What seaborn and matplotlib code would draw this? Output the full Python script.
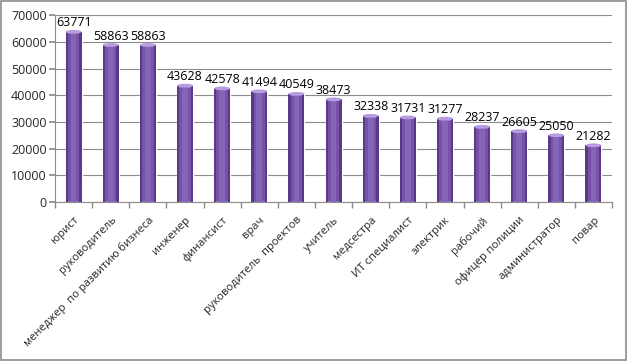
import matplotlib
matplotlib.use("Agg")
import matplotlib.pyplot as plt
import seaborn as sns
import pandas as pd
import numpy as np
from matplotlib.patches import Rectangle, Ellipse

categories = ["юрист", "руководитель", "менеджер  по развитию бизнеса", "инженер",
              "финансист", "врач", "руководитель  проектов", "учитель", "медсестра",
              "ИТ специалист", "электрик", "рабочий", "офицер полиции",
              "администратор", "повар"]
values = [63771, 58863, 58863, 43628, 42578, 41494, 40549, 38473, 32338,
          31731, 31277, 28237, 26605, 25050, 21282]
yticks = [0, 10000, 20000, 30000, 40000, 50000, 60000, 70000]

sns.set_theme(style="white")
plt.rcParams['font.family'] = ['Open Sans', 'DejaVu Sans']

df = pd.DataFrame({"cat": categories, "val": values})

fig = plt.figure(figsize=(6.28, 3.61), dpi=100)
ax = fig.add_axes([0.0876, 0.44, 0.887, 0.518])
sns.barplot(data=df, x="cat", y="val", color="#7753a6", width=0.43,
            saturation=1, ax=ax, zorder=3)

# cylinder-like shading
for p in list(ax.patches):
    x, w, h = p.get_x(), p.get_width(), p.get_height()
    ax.add_patch(Rectangle((x, 0), w * 0.14, h, color="#58398a", zorder=4, lw=0))
    ax.add_patch(Rectangle((x + w * 0.86, 0), w * 0.14, h, color="#58398a", zorder=4, lw=0))
    ax.add_patch(Rectangle((x + w * 0.32, 0), w * 0.36, h, color="#8565b8", zorder=4, lw=0))
    ax.add_patch(Ellipse((x + w / 2, h), w, 1400, color="#b79de0", zorder=5, lw=0))

for i, v in enumerate(values):
    ax.text(i, v + 900, str(v), ha="center", va="bottom", fontsize=9, color="black")

ax.set_ylim(0, 70000)
ax.set_xlim(-0.5, len(categories) - 0.5)
ax.set_yticks(yticks)
ax.set_yticklabels([str(t) for t in yticks], fontsize=9)
ax.set_xticks(range(len(categories)))
ax.set_xticklabels(categories, rotation=45, ha="right", rotation_mode="anchor", fontsize=8)
ax.set_xlabel("")
ax.set_ylabel("")
ax.yaxis.grid(True, color="#8c8c8c", linewidth=0.8, zorder=0)
ax.set_axisbelow(True)
for s in ["top", "right"]:
    ax.spines[s].set_visible(False)
for s in ["left", "bottom"]:
    ax.spines[s].set_color("#8c8c8c")
    ax.spines[s].set_linewidth(0.8)
ax.tick_params(axis="y", left=True, length=4, color="#8c8c8c", pad=2)
ax.tick_params(axis="x", bottom=False, pad=3)
ax.set_xticks(np.arange(-0.5, len(categories), 1), minor=True)
ax.tick_params(axis="x", which="minor", bottom=True, length=4, color="#8c8c8c")

fig.patches.append(Rectangle((0.002, 0.003), 0.995, 0.994, transform=fig.transFigure,
                             fill=False, edgecolor="#8c8c8c", linewidth=1.2))
fig.savefig("out.png", dpi=100)
